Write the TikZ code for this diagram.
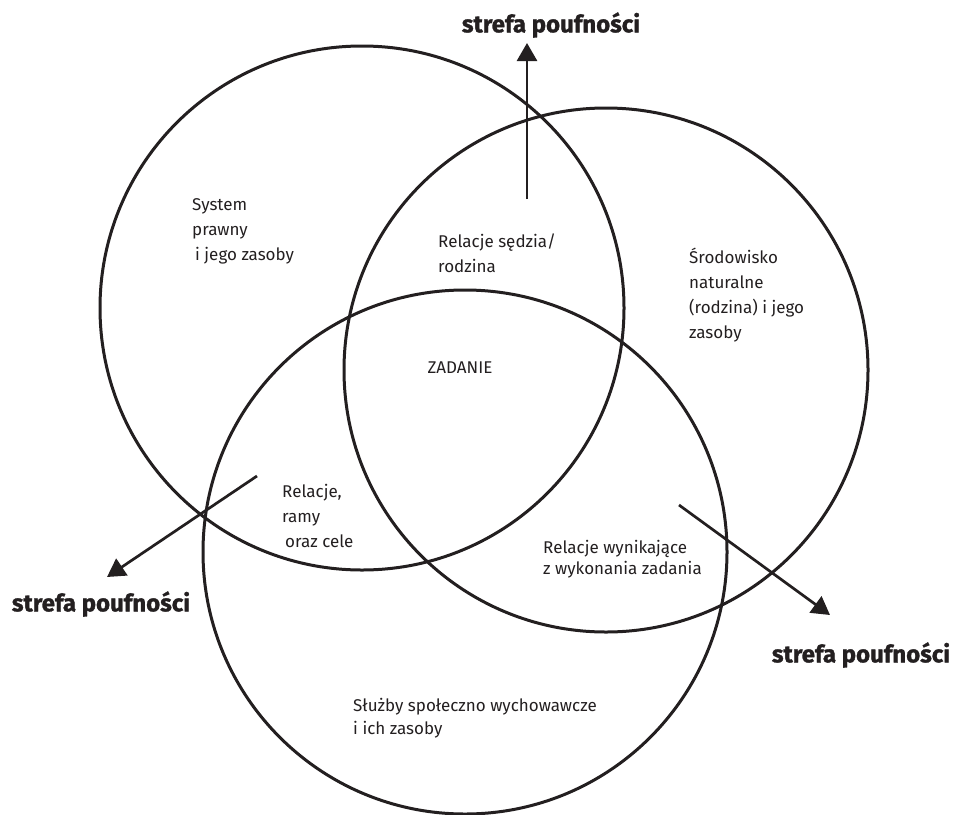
\documentclass[tikz,border=0pt]{standalone}
\usepackage{fontspec}
\setmainfont{Fira Sans}
\newfontfamily\strefafont{Fira Sans}[FakeBold=1.2]
\usetikzlibrary{arrows.meta}
\definecolor{ink}{RGB}{35,31,32}
\begin{document}
\begin{tikzpicture}[x=1pt,y=-1pt,
  ring/.style={circle, draw=ink, line width=3pt, minimum size=524pt, inner sep=0pt},
  zone/.style={-{Triangle[width=20pt,length=18pt]}, line width=2.7pt, draw=ink},
  lbl/.style={anchor=base west, align=left, inner sep=0pt, text=ink,
    font=\fontsize{17}{25}\selectfont},
  strefa/.style={inner sep=0pt, text=ink, font=\strefafont\bfseries\fontsize{24}{28}\selectfont}]
\useasboundingbox (0,0) rectangle (955,814);
% circles
\node[ring] (c1) at (362,308) {};
\node[ring] (c2) at (606,370) {};
\node[ring] (c3) at (465,552) {};
% arrows
\coordinate (t0) at (527,199);
\coordinate (t1) at (527,43);
\coordinate (l0) at (257,476);
\coordinate (l1) at (107,577);
\coordinate (r0) at (679,505);
\coordinate (r1) at (830,615);
\draw[zone] (t0) -- (t1);
\draw[zone] (l0) -- (l1);
\draw[zone] (r0) -- (r1);
% labels
\node[strefa] (st) at (551,25) {strefa poufności};
\node[strefa] (sl) at (101,604) {strefa poufności};
\node[strefa] (sr) at (861,655) {strefa poufności};
\node[lbl] (sys) at (192,260) {System\\prawny\\\hspace{3pt}i jego zasoby};
\node[lbl] (rsr) at (438,272) {Relacje sędzia/\\rodzina};
\node[lbl] (srod) at (689,338) {Środowisko\\naturalne\\(rodzina) i jego\\zasoby};
\node[lbl, anchor=base] (zad) at (460,373) {ZADANIE};
\node[lbl] (rrc) at (282,547) {Relacje,\\ramy\\\hspace{3pt}oraz cele};
\node[lbl, font=\fontsize{17}{21}\selectfont] (rwz) at (543,574) {Relacje wynikające\\z wykonania zadania};
\node[lbl, font=\fontsize{17}{23}\selectfont] (slu) at (353,734) {Służby społeczno wychowawcze\\i ich zasoby};
\end{tikzpicture}
\end{document}
